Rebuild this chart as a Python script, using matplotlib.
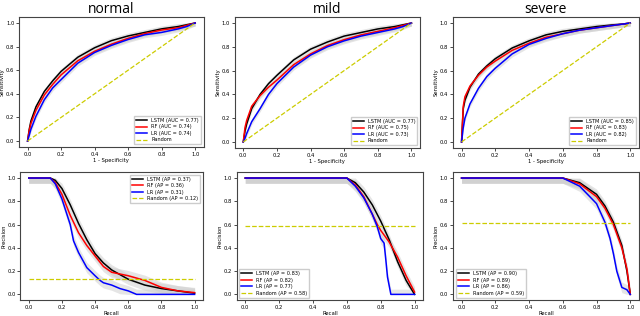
import matplotlib
matplotlib.use("Agg")
import matplotlib.pyplot as plt
import numpy as np

titles = ["normal", "mild", "severe"]

# ROC data (FPR grid, TPR per model)
roc_fpr = [0.0, 0.01, 0.02, 0.05, 0.1, 0.15, 0.2, 0.3, 0.4, 0.5, 0.6, 0.7, 0.8, 0.9, 0.95, 1.0]
roc_normal = {
    "LSTM": [0.0, 0.10, 0.17, 0.29, 0.42, 0.51, 0.59, 0.71, 0.79, 0.85, 0.89, 0.92, 0.95, 0.97, 0.985, 1.0],
    "RF":   [0.0, 0.09, 0.15, 0.26, 0.39, 0.48, 0.56, 0.68, 0.76, 0.82, 0.87, 0.91, 0.94, 0.96, 0.98, 1.0],
    "LR":   [0.0, 0.05, 0.10, 0.21, 0.35, 0.45, 0.52, 0.66, 0.75, 0.81, 0.86, 0.90, 0.92, 0.95, 0.97, 1.0],
}
roc_mild = {
    "LSTM": [0.0, 0.09, 0.15, 0.28, 0.40, 0.49, 0.56, 0.69, 0.78, 0.84, 0.89, 0.92, 0.95, 0.97, 0.985, 1.0],
    "RF":   [0.0, 0.12, 0.18, 0.30, 0.39, 0.46, 0.52, 0.65, 0.74, 0.81, 0.86, 0.90, 0.93, 0.96, 0.98, 1.0],
    "LR":   [0.0, 0.03, 0.07, 0.17, 0.28, 0.40, 0.49, 0.63, 0.73, 0.80, 0.85, 0.89, 0.92, 0.95, 0.97, 1.0],
}
roc_severe = {
    "LSTM": [0.0, 0.28, 0.35, 0.46, 0.57, 0.64, 0.70, 0.79, 0.85, 0.90, 0.93, 0.95, 0.97, 0.985, 0.99, 1.0],
    "RF":   [0.0, 0.30, 0.38, 0.47, 0.56, 0.63, 0.68, 0.77, 0.83, 0.88, 0.91, 0.94, 0.96, 0.98, 0.99, 1.0],
    "LR":   [0.0, 0.12, 0.20, 0.32, 0.45, 0.55, 0.62, 0.74, 0.82, 0.87, 0.91, 0.94, 0.96, 0.98, 0.99, 1.0],
}
roc_auc = [
    {"LSTM": 0.77, "RF": 0.74, "LR": 0.74},
    {"LSTM": 0.77, "RF": 0.75, "LR": 0.73},
    {"LSTM": 0.85, "RF": 0.83, "LR": 0.82},
]

# PR data (recall, precision) per model
pr_normal = {
    "LSTM": ([0.0, 0.13, 0.16, 0.2, 0.25, 0.3, 0.35, 0.4, 0.45, 0.5, 0.6, 0.7, 0.8, 0.9, 1.0],
             [1.0, 1.0, 0.98, 0.91, 0.77, 0.61, 0.47, 0.35, 0.27, 0.21, 0.13, 0.08, 0.05, 0.03, 0.01]),
    "RF":   ([0.0, 0.13, 0.16, 0.2, 0.25, 0.3, 0.35, 0.4, 0.45, 0.5, 0.6, 0.7, 0.8, 0.9, 1.0],
             [1.0, 1.0, 0.96, 0.86, 0.68, 0.53, 0.42, 0.33, 0.24, 0.19, 0.16, 0.12, 0.06, 0.03, 0.015]),
    "LR":   ([0.0, 0.13, 0.16, 0.2, 0.25, 0.27, 0.3, 0.35, 0.4, 0.43, 0.45, 0.5, 0.55, 0.6, 0.65, 1.0],
             [1.0, 1.0, 0.95, 0.82, 0.60, 0.46, 0.36, 0.23, 0.16, 0.12, 0.10, 0.08, 0.05, 0.03, 0.0, 0.0]),
}
pr_mild = {
    "LSTM": ([0.0, 0.6, 0.65, 0.7, 0.75, 0.8, 0.85, 0.9, 0.95, 1.0],
             [1.0, 1.0, 0.96, 0.88, 0.77, 0.63, 0.47, 0.28, 0.12, 0.0]),
    "RF":   ([0.0, 0.6, 0.65, 0.7, 0.75, 0.78, 0.8, 0.85, 0.9, 0.95, 1.0],
             [1.0, 1.0, 0.94, 0.84, 0.69, 0.60, 0.55, 0.45, 0.32, 0.16, 0.02]),
    "LR":   ([0.0, 0.6, 0.65, 0.7, 0.75, 0.78, 0.8, 0.82, 0.83, 0.84, 0.86, 1.0],
             [1.0, 1.0, 0.93, 0.83, 0.69, 0.58, 0.48, 0.44, 0.30, 0.15, 0.0, 0.0]),
}
pr_severe = {
    "LSTM": ([0.0, 0.6, 0.7, 0.8, 0.85, 0.9, 0.95, 0.98, 1.0],
             [1.0, 1.0, 0.96, 0.86, 0.76, 0.62, 0.42, 0.20, 0.0]),
    "RF":   ([0.0, 0.6, 0.7, 0.8, 0.85, 0.9, 0.95, 0.98, 1.0],
             [1.0, 1.0, 0.95, 0.84, 0.74, 0.60, 0.40, 0.22, 0.0]),
    "LR":   ([0.0, 0.6, 0.7, 0.8, 0.85, 0.88, 0.9, 0.92, 0.95, 0.98, 1.0],
             [1.0, 1.0, 0.93, 0.78, 0.62, 0.48, 0.35, 0.20, 0.06, 0.04, 0.0]),
}
pr_ap = [
    {"LSTM": 0.37, "RF": 0.36, "LR": 0.31, "Random": 0.12},
    {"LSTM": 0.83, "RF": 0.82, "LR": 0.77, "Random": 0.58},
    {"LSTM": 0.90, "RF": 0.89, "LR": 0.86, "Random": 0.59},
]
pr_random_level = [0.13, 0.59, 0.61]
roc_band = 0.025
pr_band = 0.045

colors = {"LSTM": "black", "RF": "red", "LR": "blue"}
models = ["LSTM", "RF", "LR"]

fig = plt.figure(figsize=(6.4, 3.16), dpi=100)
top_pos = [[0.030, 0.535, 0.288, 0.411], [0.367, 0.532, 0.289, 0.414], [0.708, 0.532, 0.290, 0.414]]
bot_pos = [[0.032, 0.050, 0.285, 0.405], [0.370, 0.050, 0.291, 0.405], [0.708, 0.050, 0.290, 0.405]]

roc_sets = [roc_normal, roc_mild, roc_severe]
pr_sets = [pr_normal, pr_mild, pr_severe]

def style(ax):
    ax.tick_params(labelsize=3.8, length=2, width=0.5, pad=1.5)
    for s in ax.spines.values():
        s.set_linewidth(0.8)
        s.set_color("#444444")
    ax.set_xticks([0, 0.2, 0.4, 0.6, 0.8, 1.0])
    ax.set_yticks([0, 0.2, 0.4, 0.6, 0.8, 1.0])

for i in range(3):
    ax = fig.add_axes(top_pos[i])
    data = roc_sets[i]
    x = np.array(roc_fpr)
    for m in models:
        y = np.array(data[m])
        ax.fill_between(x, np.clip(y - roc_band, 0, 1), np.clip(y + roc_band, 0, 1),
                        color="#cccccc", alpha=0.5, lw=0)
    for m in models:
        ax.plot(x, data[m], color=colors[m], lw=1.1,
                label=f"{m} (AUC = {roc_auc[i][m]:.2f})")
    ax.plot([0, 1], [0, 1], ls="--", color="#cccc00", lw=0.9, label="Random")
    style(ax)
    ax.set_title(titles[i], fontsize=10, pad=3, family="Open Sans")
    ax.set_xlabel("1 - Specificity", fontsize=3.8, labelpad=1.0)
    ax.set_ylabel("Sensitivity", fontsize=3.8, labelpad=0.8)
    ax.legend(loc="lower right", fontsize=3.6, handlelength=2.2, borderpad=0.4,
              labelspacing=0.3, framealpha=1, edgecolor="#cccccc", fancybox=False)

for i in range(3):
    ax = fig.add_axes(bot_pos[i])
    data = pr_sets[i]
    for m in models:
        x, y = np.array(data[m][0]), np.array(data[m][1])
        ax.fill_between(x, np.clip(y - pr_band, 0, 1), np.clip(y + pr_band, 0, 1),
                        color="#cccccc", alpha=0.5, lw=0)
    for m in models:
        ax.plot(data[m][0], data[m][1], color=colors[m], lw=1.1,
                label=f"{m} (AP = {pr_ap[i][m]:.2f})")
    ax.plot([0, 1], [pr_random_level[i]] * 2, ls="--", color="#cccc00", lw=0.9,
            label=f"Random (AP = {pr_ap[i]['Random']:.2f})")
    style(ax)
    ax.set_xlabel("Recall", fontsize=3.8, labelpad=0.5)
    ax.set_ylabel("Precision", fontsize=3.8, labelpad=0.8)
    ax.legend(loc="upper right" if i == 0 else "lower left", fontsize=3.6,
              handlelength=2.2, borderpad=0.4, labelspacing=0.3, framealpha=1,
              edgecolor="#cccccc", fancybox=False)

fig.savefig("out.png", dpi=100)
